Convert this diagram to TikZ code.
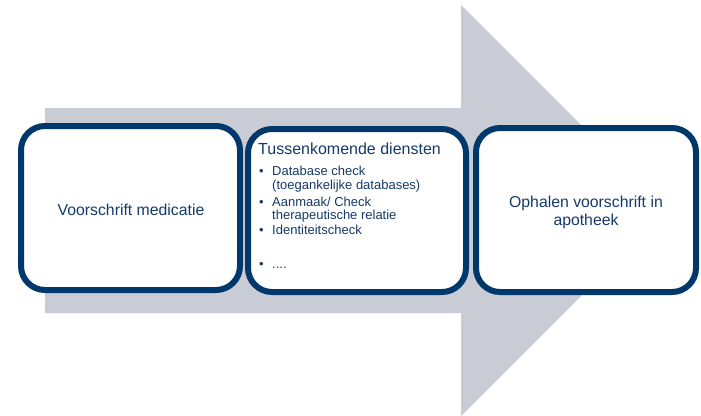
\documentclass[tikz,border=0pt]{standalone}
\usepackage{fontspec}
\setmainfont{Liberation Sans}
\definecolor{navy}{RGB}{0,56,108}
\definecolor{navytext}{RGB}{22,58,104}
\definecolor{arrowgrey}{RGB}{201,204,213}
\tikzset{
  stagebox/.style={draw=navy, line width=6pt, fill=white, rounded corners=24pt},
  stagetext/.style={text=navytext, font=\fontsize{15.8}{18}\selectfont, align=center},
  titletext/.style={text=navytext, font=\fontsize{16}{19}\selectfont, anchor=base west, inner sep=0pt},
  itemtext/.style={text=navytext, font=\fontsize{13}{14}\selectfont, anchor=base west, inner sep=0pt},
}
\begin{document}
\begin{tikzpicture}[x=1pt,y=-1pt]
\useasboundingbox (0,0) rectangle (701,415);
% background process arrow
\fill[arrowgrey] (45,108) -- (461,108) -- (461,5) -- (666.5,210.5) -- (461,416)
  -- (461,313) -- (45,313) -- cycle;
% the three stages
\draw[stagebox] (21,126) rectangle (240,290);
\draw[stagebox] (248,129) rectangle (466,292);
\draw[stagebox] (476,128) rectangle (696,292);
% stage 1
\node[stagetext] (s1) at (131,210) {Voorschrift medicatie};
% stage 2
\node[titletext] (s2title) at (258,154) {Tussenkomende diensten};
\node[itemtext] (b1) at (259,175) {\textbullet};
\node[itemtext] (i1a) at (272,175) {Database check};
\node[itemtext] (i1b) at (272,189) {(toegankelijke databases)};
\node[itemtext] (b2) at (259,206) {\textbullet};
\node[itemtext] (i2a) at (272,206) {Aanmaak/ Check};
\node[itemtext] (i2b) at (272,219) {therapeutische relatie};
\node[itemtext] (b3) at (259,234) {\textbullet};
\node[itemtext] (i3) at (272,234) {Identiteitscheck};
\node[itemtext] (b4) at (259,268) {\textbullet};
\node[itemtext] (i4) at (272,268) {....};
% stage 3
\node[stagetext] (s3) at (586,212) {Ophalen voorschrift in\\apotheek};
\end{tikzpicture}
\end{document}
